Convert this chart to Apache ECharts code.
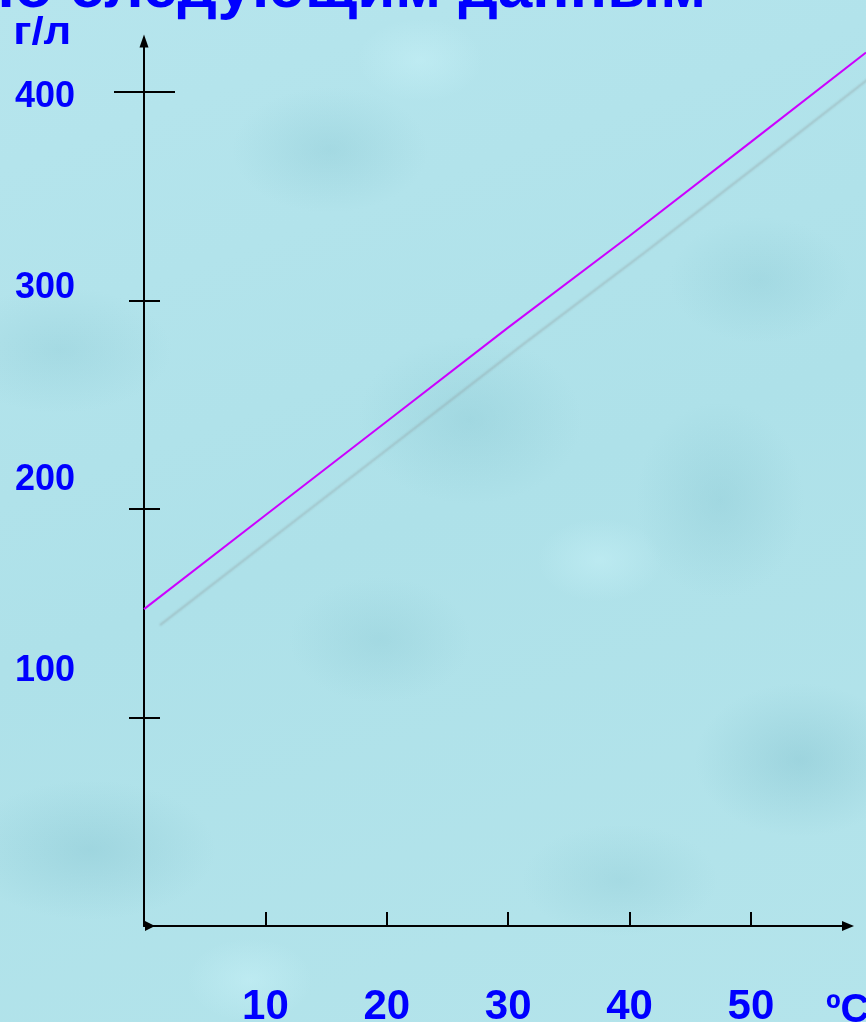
<!DOCTYPE html>
<html>
<head>
<meta charset="utf-8">
<script src="https://cdn.jsdelivr.net/npm/echarts@6/dist/echarts.min.js"></script>
<style>
  html, body { margin: 0; padding: 0; width: 866px; height: 1022px; overflow: hidden; }
  #chart {
    width: 866px; height: 1022px;
    background:
      radial-gradient(ellipse 140px 90px at 330px 150px, rgba(125,190,202,0.28), rgba(125,190,202,0) 70%),
      radial-gradient(ellipse 160px 120px at 470px 420px, rgba(125,190,202,0.28), rgba(125,190,202,0) 70%),
      radial-gradient(ellipse 120px 140px at 720px 500px, rgba(125,190,202,0.28), rgba(125,190,202,0) 70%),
      radial-gradient(ellipse 130px 90px at 380px 640px, rgba(125,190,202,0.24), rgba(125,190,202,0) 70%),
      radial-gradient(ellipse 150px 110px at 800px 760px, rgba(115,182,196,0.32), rgba(115,182,196,0) 70%),
      radial-gradient(ellipse 180px 100px at 90px 850px, rgba(115,182,196,0.28), rgba(115,182,196,0) 70%),
      radial-gradient(ellipse 160px 90px at 60px 350px, rgba(125,190,202,0.24), rgba(125,190,202,0) 70%),
      radial-gradient(ellipse 140px 80px at 620px 880px, rgba(125,190,202,0.24), rgba(125,190,202,0) 70%),
      radial-gradient(ellipse 130px 90px at 760px 280px, rgba(125,190,202,0.24), rgba(125,190,202,0) 70%),
      radial-gradient(ellipse 90px 60px at 420px 60px, rgba(200,242,248,0.5), rgba(200,242,248,0) 70%),
      radial-gradient(ellipse 90px 60px at 600px 560px, rgba(200,242,248,0.5), rgba(200,242,248,0) 70%),
      radial-gradient(ellipse 90px 60px at 250px 980px, rgba(200,242,248,0.5), rgba(200,242,248,0) 70%),
      linear-gradient(160deg, #b6e5ed 0%, #aee1e9 50%, #b4e4eb 100%);
  }
</style>
</head>
<body>
<div id="chart"></div>
<script>
// ---- data ----
const temperatures = [0, 10, 20, 30, 40, 50, 59.5];          // ºС
const concentration = [152, 197, 242, 287, 331, 376, 419];   // г/л
const xTickValues = [10, 20, 30, 40, 50];
const yTickValues = [100, 200, 300];
const yTopTick = [400];
const yLabelValues = [100, 200, 300, 400];
const titleText = 'по следующим данным';
const yUnit = 'г/л';
const xUnit = 'ºС';

const blue = '#0000ff';
const fontFamily = '"Liberation Sans", Arial, sans-serif';

const chart = echarts.init(document.getElementById('chart'), null, { renderer: 'canvas' });

const yMin = 0, yMax = 424.5;
const baseY = {
  type: 'value', position: 'left', gridIndex: 0, min: yMin, max: yMax,
  splitLine: { show: false }, axisLabel: { show: false },
  axisLine: { show: false }
};
const tickStyle = { color: '#000', width: 2 };

const option = {
  backgroundColor: 'transparent',
  animation: false,
  grid: [
    { left: 144, top: 41, width: 704, height: 885, containLabel: false, outerBoundsMode: 'none' },
    // same scale, extended to the right edge so the line can run past the arrow
    { left: 144, top: 41, width: 722, height: 885, containLabel: false, outerBoundsMode: 'none' }
  ],
  xAxis: [
    {
      type: 'value', gridIndex: 0, min: 0, max: 58,
      splitLine: { show: false },
      axisLine: {
        show: true, onZero: false,
        lineStyle: { color: '#000', width: 2 },
        symbol: ['path://M0,0 L10,0 L5,10 Z', 'triangle'],
        symbolSize: [10, 12],
        symbolOffset: [6, 0]
      },
      axisTick: { show: true, inside: true, length: 14, lineStyle: tickStyle, customValues: xTickValues },
      axisLabel: {
        show: true, customValues: xTickValues, margin: 60,
        color: blue, fontSize: 42, fontWeight: 'bold', fontFamily: fontFamily
      }
    },
    {
      type: 'value', gridIndex: 1, min: 0, max: 59.5, show: false,
      splitLine: { show: false }
    }
  ],
  yAxis: [
    Object.assign({}, baseY, {
      axisLine: {
        show: true, onZero: false, lineStyle: { color: '#000', width: 2 },
        symbol: ['none', 'triangle'], symbolSize: [9, 13]
      },
      axisTick: { show: true, inside: true, length: 16, lineStyle: tickStyle, customValues: yTickValues }
    }),
    Object.assign({}, baseY, {
      axisTick: { show: true, inside: false, length: 15, lineStyle: tickStyle, customValues: yTickValues }
    }),
    Object.assign({}, baseY, {
      axisTick: { show: true, inside: true, length: 31, lineStyle: tickStyle, customValues: yTopTick }
    }),
    Object.assign({}, baseY, {
      axisTick: { show: true, inside: false, length: 30, lineStyle: tickStyle, customValues: yTopTick }
    }),
    {
      type: 'value', position: 'left', gridIndex: 0, min: -33.28, max: 429.27,
      splitLine: { show: false }, axisLine: { show: false }, axisTick: { show: false },
      axisLabel: {
        show: true, customValues: yLabelValues, margin: 69,
        color: blue, fontSize: 36, fontWeight: 'bold', fontFamily: fontFamily
      }
    },
    {
      type: 'value', gridIndex: 1, min: yMin, max: yMax, show: false,
      splitLine: { show: false }
    }
  ],
  series: [{
    type: 'line',
    xAxisIndex: 1, yAxisIndex: 5,
    data: temperatures.map((t, i) => [t, concentration[i]]),
    symbol: 'none',
    clip: false,
    lineStyle: {
      color: '#cc00ff', width: 2,
      shadowColor: 'rgba(130,130,130,0.32)', shadowBlur: 2,
      shadowOffsetX: 16, shadowOffsetY: 16
    },
    z: 3
  }],
  graphic: [
    {
      type: 'text', x: 706, y: -10, silent: true,
      style: { text: titleText, fill: blue, font: 'bold 62px ' + fontFamily, align: 'right', verticalAlign: 'middle' }
    },
    {
      type: 'text', x: 15, y: 33, silent: true, scaleX: 1.12, originX: 15,
      style: { text: yUnit, fill: blue, font: 'bold 39px ' + fontFamily, align: 'left', verticalAlign: 'middle' }
    },
    {
      type: 'text', x: 826, y: 1011, silent: true,
      style: { text: xUnit, fill: blue, font: 'bold 40px ' + fontFamily, align: 'left', verticalAlign: 'middle' }
    }
  ]
};
chart.setOption(option);
</script>
</body>
</html>
